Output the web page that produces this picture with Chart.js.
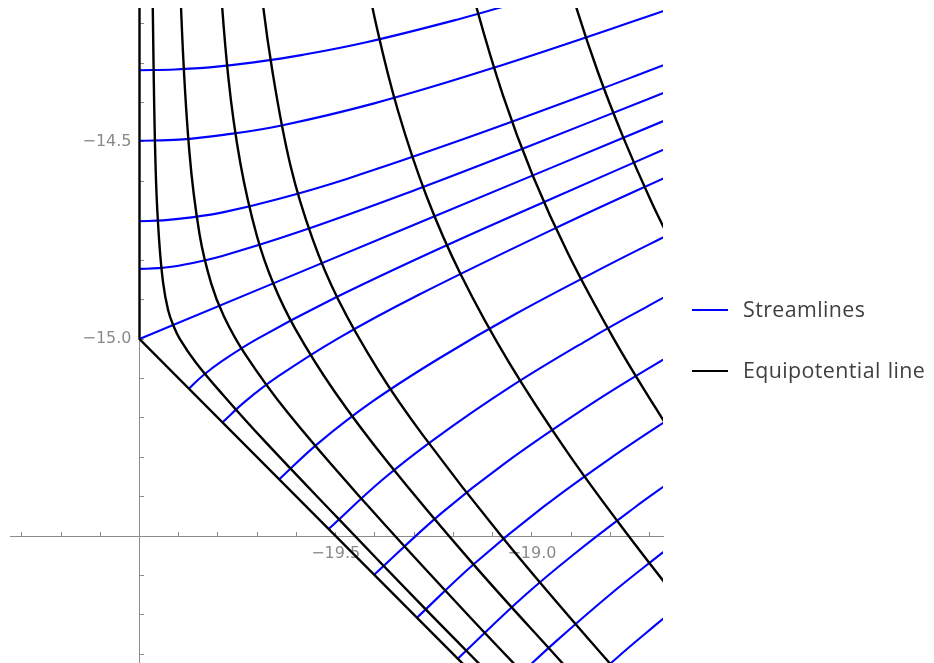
<!DOCTYPE html>
<html>
<head>
<meta charset="utf-8">
<script src="https://cdn.jsdelivr.net/npm/chart.js@4.4.1/dist/chart.umd.min.js"></script>
<style>
  html, body { margin: 0; padding: 0; background: #fff; }
  #wrap { position: relative; width: 934px; height: 663px; overflow: hidden; }
  #plot { position: absolute; left: 0; top: 0; }
  .key { position: absolute; font-family: 'Open Sans', Roboto, Arial, sans-serif; font-size: 21.4px;
         letter-spacing: 0.4px; word-spacing: 1px;
         line-height: 22px; color: #404040; white-space: nowrap; }
  .swatch { position: absolute; width: 36px; height: 2px; }
</style>
</head>
<body>
<div id="wrap">
  <canvas id="plot" width="934" height="663"></canvas>
  <div class="swatch" id="swStream" style="left:692px; top:309px;"></div>
  <div class="key" style="left:743px; top:298px;">Streamlines</div>
  <div class="swatch" id="swEqui" style="left:692px; top:370px;"></div>
  <div class="key" style="left:743px; top:359px;">Equipotential line</div>
</div>
<script>
// ---- axis ticks -------------------------------------------------------
const xTicks = [-20.3, -20.2, -20.1, -20.0, -19.9, -19.8, -19.7, -19.6, -19.5,
                -19.4, -19.3, -19.2, -19.1, -19.0, -18.9, -18.8, -18.7];
const yTicks = [-15.8, -15.7, -15.6, -15.5, -15.4, -15.3, -15.2, -15.1, -15.0,
                -14.9, -14.8, -14.7, -14.6, -14.5, -14.4, -14.3, -14.2];
const xTickLabels = [[-19.5, '\u221219.5'], [-19.0, '\u221219.0']];
const yTickLabels = [[-15.0, '\u221215.0'], [-14.5, '\u221214.5']];

// ---- boundary (conductor wall: vertical part and the inclined part) -----
const wall = [[-20, -14.0], [-20, -15.0], [-19.0, -16.0]];

// ---- equipotential lines ----------------------------------------------
const equi1 = [[-19.970, -13.851], [-19.964, -14.318], [-19.958, -14.595], [-19.950, -14.749],
               [-19.940, -14.856], [-19.927, -14.927], [-19.914, -14.965], [-19.897, -15.000],
               [-19.856, -15.060], [-19.787, -15.142], [-19.684, -15.256], [-19.492, -15.457],
               [-19.291, -15.665], [-19.167, -15.791], [-19.062, -15.897]];
const equi2 = [[-19.910, -13.630], [-19.893, -14.188], [-19.873, -14.524], [-19.847, -14.734],
               [-19.817, -14.860], [-19.785, -14.942], [-19.733, -15.035], [-19.623, -15.186],
               [-19.421, -15.420], [-19.179, -15.683], [-18.968, -15.905]];
const equi3 = [[-19.801, -14.002], [-19.774, -14.333], [-19.743, -14.554], [-19.701, -14.738],
               [-19.659, -14.859], [-19.603, -14.974], [-19.503, -15.133], [-19.368, -15.312],
               [-19.154, -15.566], [-18.910, -15.836]];
const equi4 = [[-19.730, -13.641], [-19.692, -14.091], [-19.662, -14.316], [-19.615, -14.561],
               [-19.559, -14.746], [-19.494, -14.899], [-19.391, -15.080], [-19.277, -15.245],
               [-19.077, -15.501], [-18.848, -15.770], [-18.678, -15.960]];
const equi5 = [[-19.476, -13.735], [-19.433, -14.018], [-19.395, -14.211], [-19.341, -14.422],
               [-19.268, -14.639], [-19.181, -14.837], [-19.057, -15.062], [-18.905, -15.294],
               [-18.735, -15.524], [-18.607, -15.687]];
const equi6 = [[-19.244, -13.691], [-19.193, -13.949], [-19.145, -14.145], [-19.074, -14.381],
               [-18.998, -14.585], [-18.908, -14.783], [-18.791, -15.000], [-18.686, -15.173],
               [-18.620, -15.275]];
const equi7 = [[-18.948, -13.948], [-18.890, -14.149], [-18.831, -14.325], [-18.767, -14.489],
               [-18.696, -14.651], [-18.631, -14.783]];

// ---- streamlines ------------------------------------------------------
const stream1 = [[-20, -14.318], [-19.910, -14.316], [-19.815, -14.310], [-19.709, -14.298],
                 [-19.584, -14.279], [-19.422, -14.247], [-19.189, -14.189], [-19.022, -14.142]];
const stream2 = [[-20, -14.497], [-19.899, -14.494], [-19.786, -14.482], [-19.638, -14.458],
                 [-19.402, -14.402], [-19.108, -14.315], [-18.698, -14.179], [-18.607, -14.146]];
const stream3 = [[-20, -14.701], [-19.940, -14.699], [-19.873, -14.692], [-19.785, -14.678],
                 [-19.644, -14.644], [-19.470, -14.593], [-19.172, -14.492], [-18.847, -14.374],
                 [-18.717, -14.325], [-18.550, -14.261]];
const stream4 = [[-20, -14.822], [-19.952, -14.820], [-19.891, -14.812], [-19.789, -14.789],
                 [-19.593, -14.728], [-19.314, -14.628], [-19.006, -14.510], [-18.689, -14.385],
                 [-18.595, -14.348]];
const stream5 = [[-20, -15.0], [-19.3, -14.710], [-18.6, -14.420]];
const stream6 = [[-19.874, -15.126], [-19.839, -15.093], [-19.790, -15.056], [-19.701, -15.000],
                 [-19.519, -14.904], [-19.252, -14.778], [-18.950, -14.644], [-18.638, -14.508]];
const stream7 = [[-19.789, -15.212], [-19.729, -15.157], [-19.647, -15.095], [-19.497, -15.000],
                 [-19.287, -14.887], [-18.926, -14.712], [-18.616, -14.570]];
const stream8 = [[-19.644, -15.356], [-19.544, -15.264], [-19.407, -15.159], [-19.238, -15.050],
                 [-19.043, -14.937], [-18.801, -14.810], [-18.641, -14.730]];
const stream9 = [[-19.518, -15.482], [-19.381, -15.357], [-19.250, -15.255], [-19.059, -15.124],
                 [-18.854, -15.000], [-18.702, -14.915], [-18.626, -14.874]];
const stream10 = [[-19.402, -15.598], [-19.232, -15.443], [-19.070, -15.316], [-18.832, -15.154],
                  [-18.639, -15.036]];
const stream11 = [[-19.293, -15.707], [-19.147, -15.570], [-18.971, -15.426], [-18.785, -15.292],
                  [-18.619, -15.182]];
const stream12 = [[-19.189, -15.811], [-19.022, -15.654], [-18.893, -15.546], [-18.739, -15.428],
                  [-18.647, -15.362]];
const stream13 = [[-19.090, -15.910], [-19.030, -15.851], [-18.941, -15.769], [-18.803, -15.650],
                  [-18.676, -15.549], [-18.622, -15.508]];
const stream14 = [[-18.994, -16.006], [-18.886, -15.902], [-18.786, -15.811], [-18.677, -15.719],
                  [-18.626, -15.677]];

// ---- styling ----------------------------------------------------------
const STREAM_COLOR = '#0000ff';
const EQUI_COLOR = '#000000';
const AXIS_COLOR = '#8c8c8c';
const LABEL_COLOR = '#8a8a8a';
const TICK_FONT = { family: "'DejaVu Sans', sans-serif", size: 16 };

document.getElementById('swStream').style.background = STREAM_COLOR;
document.getElementById('swEqui').style.background = EQUI_COLOR;

function curve(points, color, label, width, smooth) {
  return {
    label,
    data: points.map(([x, y]) => ({ x, y })),
    showLine: true,
    borderColor: color,
    backgroundColor: color,
    borderWidth: width,
    pointRadius: 0,
    pointHoverRadius: 0,
    fill: false,
    tension: smooth ? 0.4 : 0
  };
}

function labelFor(table, v) {
  const hit = table.find(([val]) => Math.abs(val - v) < 1e-6);
  return hit ? hit[1] : '';
}

// axes sit inside the plot, so they must not claim any layout space
function noLayoutSpace(scale) {
  if (scale.isHorizontal()) scale.height = 0; else scale.width = 0;
  scale.paddingTop = 0; scale.paddingBottom = 0;
  scale.paddingLeft = 0; scale.paddingRight = 0;
}

const equipotentials = [equi1, equi2, equi3, equi4, equi5, equi6, equi7];
const streamlines = [stream1, stream2, stream3, stream4, stream5, stream6, stream7,
                     stream8, stream9, stream10, stream11, stream12, stream13, stream14];

// earlier datasets are painted last, so the black lines sit on top
const datasets = [curve(wall, EQUI_COLOR, 'Equipotential line', 2.4, false)];
equipotentials.forEach(p => datasets.push(curve(p, EQUI_COLOR, 'Equipotential line', 2.4, true)));
streamlines.forEach(p => datasets.push(curve(p, STREAM_COLOR, 'Streamlines', 2.1, true)));

new Chart(document.getElementById('plot'), {
  type: 'scatter',
  data: { datasets },
  options: {
    responsive: false,
    animation: false,
    devicePixelRatio: 1,
    events: [],
    layout: { padding: { left: 10, top: 8, right: 271, bottom: 0 } },
    plugins: { legend: { display: false }, tooltip: { enabled: false } },
    elements: { line: { capBezierPoints: false } },
    scales: {
      x: {
        type: 'linear',
        min: -20.33,
        max: -18.666,
        position: { y: -15.5 },
        afterFit: noLayoutSpace,
        afterBuildTicks(scale) { scale.ticks = xTicks.map(v => ({ value: v })); },
        grid: { drawOnChartArea: false, drawTicks: true, tickLength: -5, tickColor: AXIS_COLOR, tickWidth: 1 },
        border: { display: true, color: AXIS_COLOR, width: 1 },
        ticks: { autoSkip: false, maxRotation: 0, minRotation: 0, padding: 13, color: LABEL_COLOR,
                 font: TICK_FONT, callback: v => labelFor(xTickLabels, v) }
      },
      y: {
        type: 'linear',
        min: -15.822,
        max: -14.16,
        position: { x: -20 },
        afterFit: noLayoutSpace,
        afterBuildTicks(scale) { scale.ticks = yTicks.map(v => ({ value: v })); },
        grid: { drawOnChartArea: false, drawTicks: true, tickLength: -5, tickColor: AXIS_COLOR, tickWidth: 1 },
        border: { display: true, color: AXIS_COLOR, width: 1 },
        ticks: { autoSkip: false, padding: 8, color: LABEL_COLOR, font: TICK_FONT,
                 // an en space keeps the label clear of the axis line
                 callback: v => { const t = labelFor(yTickLabels, v); return t ? t + '\u2002' : ''; } }
      }
    }
  }
});
</script>
</body>
</html>
